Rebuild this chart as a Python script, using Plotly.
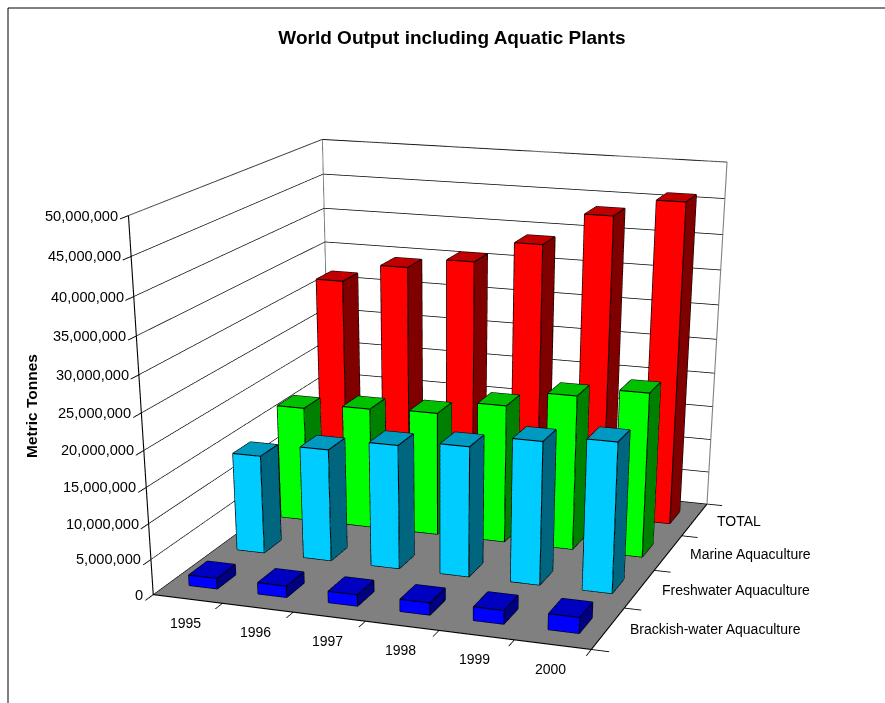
import plotly.graph_objects as go

years = ["1995", "1996", "1997", "1998", "1999", "2000"]
series = ["Brackish-water Aquaculture", "Freshwater Aquaculture", "Marine Aquaculture", "TOTAL"]
brackish = [1500000, 1600000, 1600000, 1700000, 1900000, 2200000]
freshwater = [14100000, 16000000, 17600000, 18400000, 20100000, 21000000]
marine = [16800000, 17600000, 17900000, 19900000, 22200000, 23500000]
total = [31800000, 34500000, 36000000, 39100000, 43700000, 46200000]
values = [brackish, freshwater, marine, total]
z_ticks = list(range(0, 50000001, 5000000))
top_colors = ["#0000C0", "#0099C0", "#00C000", "#C00000"]
front_colors = ["#0000FF", "#00CCFF", "#00FF00", "#FF0000"]
side_colors = ["#000080", "#006680", "#008000", "#800000"]
BAR_WX = 0.41
BAR_WY = 0.38
ZMAX = 50000000
PAGE_H = 1800  # tall layout = longer lens; the page only shows the top 703 px
NX, NY = len(years), len(series)

fig = go.Figure()
quads = [
    ((0, 1, 3, 2), "side"), ((4, 5, 7, 6), "side"),
    ((0, 1, 5, 4), "front"), ((2, 3, 7, 6), "front"),
    ((0, 2, 6, 4), "top"), ((1, 3, 7, 5), "top"),
]
for s, vals in enumerate(values):
    for i, v in enumerate(vals):
        x0, x1 = i + 0.5 - BAR_WX / 2, i + 0.5 + BAR_WX / 2
        y0, y1 = s + 0.5 - BAR_WY / 2, s + 0.5 + BAR_WY / 2
        vx = [x0, x0, x0, x0, x1, x1, x1, x1]
        vy = [y0, y0, y1, y1, y0, y0, y1, y1]
        vz = [0, v, 0, v, 0, v, 0, v]
        I, J, K, FC = [], [], [], []
        cmap = {"top": top_colors[s], "front": front_colors[s], "side": side_colors[s]}
        for (a, b, c, d), kind in quads:
            I += [a, a]; J += [b, c]; K += [c, d]
            FC += [cmap[kind], cmap[kind]]
        fig.add_trace(go.Mesh3d(x=vx, y=vy, z=vz, i=I, j=J, k=K, facecolor=FC, flatshading=True,
                                lighting=dict(ambient=1, diffuse=0, specular=0, fresnel=0),
                                hoverinfo="skip", showscale=False))
        ex, ey, ez = [], [], []
        for p in [(x0, y0, 0, x1, y0, 0), (x0, y0, v, x1, y0, v), (x0, y1, v, x1, y1, v), (x0, y0, 0, x0, y0, v),
                  (x1, y0, 0, x1, y0, v), (x1, y1, 0, x1, y1, v),
                  (x0, y0, v, x0, y1, v), (x1, y0, v, x1, y1, v), (x1, y0, 0, x1, y1, 0)]:
            ex += [p[0], p[3], None]; ey += [p[1], p[4], None]; ez += [p[2], p[5], None]
        fig.add_trace(go.Scatter3d(x=ex, y=ey, z=ez, mode="lines", line=dict(color="black", width=2.2),
                                   hoverinfo="skip", showlegend=False))

fig.add_trace(go.Scatter3d(x=[0, 0, 0, None, 0, NX, NX], y=[0, NY, NY, None, NY, NY, NY], z=[ZMAX, ZMAX, 0, None, ZMAX, ZMAX, 0],
                           mode="lines", line=dict(color="#808080", width=2.2), hoverinfo="skip", showlegend=False))
fig.add_trace(go.Scatter3d(x=[0, NX, NX, None, 0, 0], y=[0, 0, NY, None, 0, 0], z=[0, 0, 0, None, 0, ZMAX],
                           mode="lines", line=dict(color="black", width=2.2), hoverinfo="skip", showlegend=False))

font = dict(family="Liberation Sans, Arial", size=14, color="black")
zfont = dict(family="Liberation Sans, Arial", size=14.6, color="black")
scene_notes = []
for t in z_ticks:
    scene_notes.append(dict(x=0, y=0, z=t, text=f"{t:,d}", showarrow=False, xanchor="right", yanchor="middle", xshift=-8, font=zfont))
for i, y in enumerate(years):
    scene_notes.append(dict(x=i + 0.5, y=0, z=0, text=y, showarrow=False, xanchor="center", yanchor="middle", xshift=-2, yshift=-24, font=font))
for i, n in enumerate(series):
    scene_notes.append(dict(x=NX, y=i + 0.5, z=0, text=n, showarrow=False, xanchor="left", yanchor="middle", xshift=20, yshift=-1, font=font))

axis_common = dict(title="", tickmode="array", showticklabels=False, showbackground=True, showline=False,
                   ticks="outside", ticklen=14, tickwidth=2, tickcolor="black", zeroline=False, showspikes=False)
fig.update_layout(
    width=885, height=PAGE_H, showlegend=False, paper_bgcolor="white",
    margin=dict(l=0, r=0, t=0, b=0),
    title=dict(text="<b>World Output including Aquatic Plants</b>", x=452 / 885, y=1 - 37 / PAGE_H, xanchor="center",
               yanchor="middle", font=dict(family="Liberation Sans, Arial", size=19, color="black")),
    scene=dict(
        domain=dict(x=[0.0, 1.0], y=[0.0, 1.0]),
        aspectmode="manual", aspectratio=dict(x=1.237, y=1.289, z=1.0),
        camera=dict(eye=dict(x=1.983, y=-5.685, z=1.524), center=dict(x=0.834, y=-2.408, z=-0.308), up=dict(x=0, y=0, z=1)),
        xaxis=dict(range=[0, NX], tickvals=list(range(NX + 1)), showgrid=False, backgroundcolor="white", **axis_common),
        yaxis=dict(range=[0, NY], tickvals=list(range(NY + 1)), showgrid=False, backgroundcolor="white", **axis_common),
        zaxis=dict(range=[0, ZMAX], tickvals=z_ticks, showgrid=True, gridcolor="black", gridwidth=1.5,
                   backgroundcolor="#808080", **axis_common),
        annotations=scene_notes,
    ),
    annotations=[dict(text="<b>Metric Tonnes</b>", x=32 / 885, y=1 - 406 / PAGE_H, xref="paper", yref="paper", showarrow=False,
                      xanchor="center", yanchor="middle", textangle=-90,
                      font=dict(family="Liberation Sans, Arial", size=15.5, color="black"))],
    shapes=[dict(type="line", xref="paper", yref="paper", x0=8 / 885, x1=1, y0=1 - 8 / PAGE_H, y1=1 - 8 / PAGE_H, line=dict(color="black", width=1)),
            dict(type="line", xref="paper", yref="paper", x0=8 / 885, x1=8 / 885, y0=1 - 8 / PAGE_H, y1=1 - 710 / PAGE_H, line=dict(color="black", width=1))],
)
fig.write_html("out.html", config=dict(displayModeBar=False),
               post_script="document.body.style.margin='0';document.documentElement.style.overflow='hidden';document.body.style.overflow='hidden';")
